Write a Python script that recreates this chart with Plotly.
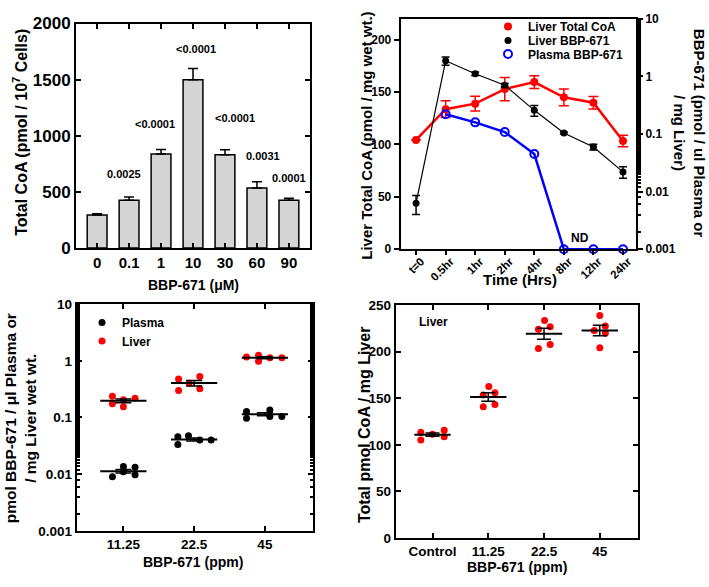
import plotly.graph_objects as go

W, H = 709, 587
FONT = "Liberation Sans, Arial, sans-serif"

# ---- panel A: total CoA in cells ----
conc = ["0", "0.1", "1", "10", "30", "60", "90"]
coa_mean = [295, 425, 838, 1500, 830, 535, 425]
coa_err = [10, 30, 40, 100, 45, 55, 18]
pvals = ["", "0.0025", "<0.0001", "<0.0001", "<0.0001", "0.0031", "0.0001"]

# ---- panel B: time course ----
times = ["t=0", "0.5hr", "1hr", "2hr", "4hr", "8hr", "12hr", "24hr"]
liver_coa = [104.3, 133.6, 138.9, 152.8, 159.5, 145.0, 139.8, 103.3]
liver_coa_err = [0, 8, 7, 11, 6, 8, 6, 5.5]
liver_bbp = [0.0063, 1.86, 1.11, 0.70, 0.257, 0.104, 0.0596, 0.022]
liver_bbp_err = [0.0023, 0.3, 0.08, 0.05, 0.055, 0.004, 0.007, 0.005]
plasma_bbp = [None, 0.22, 0.159, 0.108, 0.0449, 0.001, 0.001, 0.001]

# ---- panel C: BBP-671 levels by dose ----
doses = ["11.25", "22.5", "45"]
plasma_pts = [[0.0090, 0.0136, 0.0110, 0.0132, 0.0098],
              [0.0334, 0.0457, 0.0475, 0.0400, 0.0400],
              [0.128, 0.097, 0.135, 0.104, 0.104]]
liver_pts = [[0.237, 0.175, 0.205, 0.154, 0.219],
             [0.48, 0.30, 0.40, 0.53, 0.32],
             [1.17, 1.25, 0.98, 1.13, 1.13]]
plasma_mean = [0.0113, 0.0410, 0.114]
plasma_sem = [0.0008, 0.0025, 0.007]
liver_mean = [0.197, 0.405, 1.13]
liver_sem = [0.015, 0.045, 0.045]
plasma_jit = [[-0.155, 0, 0, 0.165, 0.165],
              [-0.23, -0.23, -0.08, 0.08, 0.24],
              [-0.26, -0.26, 0.07, 0.07, 0.24]]
liver_jit = [[-0.155, -0.155, 0, 0, 0.165],
             [-0.22, -0.22, -0.07, 0.08, 0.08],
             [-0.26, -0.09, -0.09, 0.07, 0.24]]

# ---- panel D: liver CoA by dose ----
groups = ["Control", "11.25", "22.5", "45"]
liver_coa_pts = [[113.6, 105.3, 111.5, 115.6, 108.7],
                 [153.4, 162.7, 155.8, 140.9, 143.4],
                 [203.3, 233.4, 226.8, 224.0, 207.7],
                 [238.9, 222.7, 227.5, 204.3, 219.9]]
liver_coa_mean = [110.9, 151.3, 219.2, 222.7]
liver_coa_sem = [1.8, 4.5, 5.9, 5.7]
coa_jit = [[-0.21, -0.21, 0, 0.21, 0.21],
           [-0.09, 0.01, 0.12, -0.09, 0.12],
           [-0.1, 0.01, 0.11, -0.1, 0.11],
           [0, -0.1, 0.1, 0, 0.1]]


def px(x):
    return x / W


def py(y):
    return 1 - y / H


def bf(size, color="black"):
    return dict(family=FONT, size=size, color=color, weight="bold")


def flat(pts, jit):
    xs, ys = [], []
    for i, (vals, offs) in enumerate(zip(pts, jit)):
        for v, o in zip(vals, offs):
            xs.append(i + o)
            ys.append(v)
    return xs, ys


fig = go.Figure()

# A
fig.add_trace(go.Bar(
    x=list(range(len(conc))), y=coa_mean, width=0.62,
    marker=dict(color="#d4d4d4", line=dict(color="black", width=1.5)),
    error_y=dict(type="data", symmetric=False, array=coa_err, arrayminus=[0] * len(conc),
                 color="black", thickness=1.5, width=5),
    xaxis="x", yaxis="y", showlegend=False))

# B
idx = list(range(len(times)))
fig.add_trace(go.Scatter(x=idx, y=liver_coa, mode="lines", line=dict(color="red", width=2.5),
                         xaxis="x2", yaxis="y2", showlegend=False))
fig.add_trace(go.Scatter(x=idx, y=liver_bbp, mode="lines", line=dict(color="black", width=1.2),
                         xaxis="x2", yaxis="y3", showlegend=False))
fig.add_trace(go.Scatter(x=idx, y=plasma_bbp, mode="lines", line=dict(color="blue", width=2.5),
                         xaxis="x2", yaxis="y3", showlegend=False, cliponaxis=False))
fig.add_trace(go.Scatter(x=idx, y=liver_coa, mode="markers", name="Liver Total CoA",
                         marker=dict(color="red", size=8),
                         error_y=dict(type="data", array=liver_coa_err, color="red", thickness=1.5, width=5),
                         xaxis="x2", yaxis="y2", legend="legend", cliponaxis=False))
fig.add_trace(go.Scatter(x=idx, y=liver_bbp, mode="markers", name="Liver BBP-671",
                         marker=dict(color="black", size=7),
                         error_y=dict(type="data", array=liver_bbp_err, color="black", thickness=1.5, width=4),
                         xaxis="x2", yaxis="y3", legend="legend3", cliponaxis=False))
fig.add_trace(go.Scatter(x=idx, y=plasma_bbp, mode="markers", name="Plasma BBP-671",
                         marker=dict(color="blue", size=8, symbol="circle-open", line=dict(width=2)),
                         xaxis="x2", yaxis="y3", legend="legend4", cliponaxis=False))

# C
xs, ys = flat(plasma_pts, plasma_jit)
fig.add_trace(go.Scatter(x=xs, y=ys, mode="markers", name="Plasma",
                         marker=dict(color="black", size=7),
                         xaxis="x3", yaxis="y4", legend="legend2"))
xs, ys = flat(liver_pts, liver_jit)
fig.add_trace(go.Scatter(x=xs, y=ys, mode="markers", name="Liver",
                         marker=dict(color="red", size=7),
                         xaxis="x3", yaxis="y4", legend="legend5"))
for m, s in ((plasma_mean, plasma_sem), (liver_mean, liver_sem)):
    fig.add_trace(go.Scatter(
        x=list(range(len(doses))), y=m, mode="markers",
        marker=dict(symbol="line-ew", size=33, line=dict(color="black", width=2)),
        error_y=dict(type="data", array=s, color="black", thickness=1.5, width=8),
        xaxis="x3", yaxis="y4", showlegend=False))

# D
xs, ys = flat(liver_coa_pts, coa_jit)
fig.add_trace(go.Scatter(x=xs, y=ys, mode="markers", marker=dict(color="red", size=7),
                         xaxis="x4", yaxis="y5", showlegend=False))
fig.add_trace(go.Scatter(
    x=list(range(len(groups))), y=liver_coa_mean, mode="markers",
    marker=dict(symbol="line-ew", size=26, line=dict(color="black", width=2)),
    error_y=dict(type="data", array=liver_coa_sem, color="black", thickness=1.5, width=7),
    xaxis="x4", yaxis="y5", showlegend=False))

common = dict(showline=True, linecolor="black", linewidth=2, showgrid=False, zeroline=False,
              tickcolor="black", tickwidth=1.5, ticklen=5)


def leg(x, y):
    return dict(x=px(x - 21), y=py(y), xanchor="left", yanchor="middle",
                bgcolor="rgba(0,0,0,0)", font=bf(12), tracegroupgap=0)


fig.update_layout(
    width=W, height=H, margin=dict(l=0, r=0, t=0, b=0),
    paper_bgcolor="white", plot_bgcolor="white",
    xaxis=dict(common, domain=[px(76), px(310)], anchor="y", range=[-0.66, 6.66],
               tickvals=list(range(len(conc))), ticktext=conc, ticks="inside", mirror="ticks",
               tickfont=bf(15)),
    yaxis=dict(common, domain=[py(247), py(15)], anchor="x", range=[0, 2000], dtick=500,
               ticks="inside", mirror="ticks", tickfont=bf(17)),
    xaxis2=dict(common, domain=[px(400.7), px(636)], anchor="y2", range=[-0.52, 7.44],
                tickvals=idx, ticktext=times, ticks="outside", ticklen=4, tickangle=-45, mirror=True,
                tickfont=bf(11.5), ticklabelshift=5, ticklabelstandoff=-5),
    yaxis2=dict(common, domain=[py(248.3), py(10)], anchor="x2", range=[0, 220],
                tickvals=[0, 50, 100, 150, 200], ticks="outside", tickfont=bf(12)),
    yaxis3=dict(common, type="log", overlaying="y2", side="right", anchor="x2", range=[-3, 1],
                tickvals=[0.001, 0.01, 0.1, 1, 10], ticktext=["0.001", "0.01", "0.1", "1", "10"],
                ticks="outside", tickfont=bf(12),
                minor=dict(ticks="outside", ticklen=3, tickcolor="black", showgrid=False)),
    xaxis3=dict(common, domain=[px(76.7), px(313)], anchor="y4", range=[-0.66, 2.68],
                tickvals=list(range(len(doses))), ticktext=doses, ticks="inside", mirror="ticks",
                tickfont=bf(13.5)),
    yaxis4=dict(common, type="log", domain=[py(539.3), py(305)], anchor="x3", range=[-3, 1],
                tickvals=[0.001, 0.01, 0.1, 1, 10], ticktext=["0.001", "0.01", "0.1", "1", "10"],
                ticks="inside", mirror="ticks", tickfont=bf(13.5),
                minor=dict(ticks="inside", ticklen=3, tickcolor="black", showgrid=False)),
    xaxis4=dict(common, domain=[px(395.7), px(637.7)], anchor="y5", range=[-0.66, 3.68],
                tickvals=list(range(len(groups))), ticktext=groups, ticks="inside", mirror="ticks",
                tickfont=bf(13.5)),
    yaxis5=dict(common, domain=[py(546.7), py(306)], anchor="x4", range=[0, 250], dtick=50,
                ticks="inside", mirror="ticks", tickfont=bf(13.5)),
    legend=leg(509, 18),
    legend3=leg(509, 32.5),
    legend4=leg(509, 46.5),
    legend2=leg(103, 324),
    legend5=leg(103, 343),
)

# p-values over bars (text offsets in category units, heights in data units)
p_dx = [0, -0.15, -0.2, 0.1, 0.3, 0.2, 0]
p_y = [0, 661, 1107, 1771, 1155, 819, 621]
for i, t in enumerate(pvals):
    if t:
        fig.add_annotation(x=i + p_dx[i], y=p_y[i], xref="x", yref="y", text=t,
                           showarrow=False, font=bf(11))

titles = [
    (20, 128, -90, 16, "Total CoA (pmol / 10<sup>7</sup> Cells)"),
    (193, 285, 0, 14, "BBP-671 (μM)"),
    (367, 131, -90, 15, "Liver Total CoA (pmol / mg wet wt.)"),
    (689, 128, 90, 15, "BBP-671 (pmol / ul Plasma or<br>/ mg Liver)"),
    (520, 280, 0, 15, "Time (Hrs)"),
    (580, 237, 0, 12, "ND"),
    (20, 423, -90, 15.5, "pmol BBP-671 / μl Plasma or<br>/ mg Liver wet wt."),
    (193, 572, 0, 14, "BBP-671 (ppm)"),
    (364, 430, -90, 16, "Total pmol CoA / mg Liver"),
    (517, 577, 0, 14, "BBP-671 (ppm)"),
    (433, 323, 0, 12, "Liver"),
]
for x, y, ang, size, txt in titles:
    fig.add_annotation(x=px(x), y=py(y), xref="paper", yref="paper", text=txt, textangle=ang,
                       showarrow=False, font=bf(size), xanchor="center", yanchor="middle")

fig.write_html("out.html", config={"displayModeBar": False},
               post_script="document.body.style.margin='0';document.body.style.overflow='hidden';")
